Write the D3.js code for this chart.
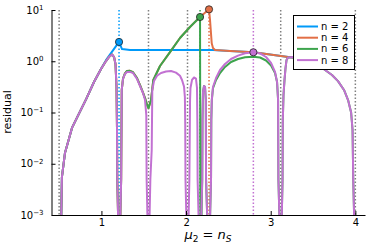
<!DOCTYPE html>
<html>
<head>
<meta charset="utf-8">
<script src="https://cdn.jsdelivr.net/npm/d3@7"></script>
<style>
  body { margin: 0; background: #fff; }
  text { font-family: "DejaVu Sans", sans-serif; fill: #000; }
</style>
</head>
<body>
<div id="chart"></div>
<script>
// series
const seriesNames = ["n = 2", "n = 4", "n = 6", "n = 8"];
const seriesColors = ["#009af9", "#e26f46", "#3da44d", "#c271d2"];

const xTicks = [1, 2, 3, 4];
const yTicks = [1e-3, 1e-2, 1e-1, 1, 10];
const yExps = ["\u22123", "\u22122", "\u22121", "0", "1"];

// shared pieces of the curves (mu, residual)
const muLeft  = [0.515, 0.533, 0.569, 0.652, 0.723, 0.818, 0.912, 0.995];
const resLeft = [1e-4, 0.0055, 0.0162, 0.050, 0.087, 0.18, 0.394, 0.706];

const muPeak  = [1.054, 1.095, 1.125, 1.149, 1.166, 1.178, 1.184, 1.187, 1.21];
const resPeak = [1.01, 1.239, 1.355, 1.21, 0.884, 0.315, 0.0456, 0.005, 1e-4];

const muLobe1  = [1.233, 1.235, 1.240, 1.255, 1.278, 1.302, 1.337, 1.373, 1.42, 1.456, 1.491, 1.515, 1.530, 1.534, 1.556];
const resLobe1 = [0.005, 0.0185, 0.275, 0.451, 0.564, 0.617, 0.62, 0.59, 0.451, 0.327, 0.24, 0.175, 0.089, 0.005, 1e-4];

const muLobe2  = [1.578, 1.594, 1.601, 1.621, 1.657, 1.704, 1.763, 1.822, 1.881, 1.928, 1.952, 1.976, 1.986, 1.990, 1.993, 2.017];
const resLobe2 = [0.005, 0.0185, 0.275, 0.41, 0.52, 0.59, 0.631, 0.645, 0.60, 0.52, 0.431, 0.32, 0.2, 0.06, 0.005, 1e-4];

const muLobe3  = [2.039, 2.047, 2.052, 2.070, 2.094, 2.117, 2.129, 2.134, 2.136, 2.163];
const resLobe3 = [0.005, 0.175, 0.301, 0.431, 0.482, 0.46, 0.301, 0.0456, 0.005, 1e-4];

const muLobe4  = [2.191, 2.194, 2.200, 2.212, 2.224, 2.233, 2.236, 2.268];
const resLobe4 = [0.005, 0.071, 0.251, 0.33, 0.315, 0.175, 0.005, 1e-4];

const muLobe5  = [2.295, 2.298, 2.304, 2.318, 2.354, 2.401, 2.46, 2.531, 2.614, 2.697, 2.795, 2.874, 2.945, 3.004, 3.051, 3.075, 3.087, 3.091, 3.118];
const resLobe5 = [0.005, 0.071, 0.175, 0.315, 0.471, 0.675, 0.884, 1.107, 1.29, 1.43, 1.496, 1.42, 1.21, 0.925, 0.617, 0.394, 0.175, 0.005, 1e-4];

const muLobe6  = [3.14, 3.143, 3.151, 3.163, 3.175, 3.187, 3.205, 3.264, 3.346, 3.465, 3.559, 3.642, 3.724, 3.795, 3.866, 3.914, 3.95, 3.967, 3.975, 4.0];
const resLobe6 = [0.005, 0.071, 0.219, 0.431, 0.738, 1.058, 1.18, 1.21, 1.18, 1.058, 0.884, 0.675, 0.539, 0.41, 0.275, 0.175, 0.1, 0.0456, 0.005, 1e-4];

// n = 6 specific pieces
const muLobe1n6  = [1.233, 1.235, 1.240, 1.255, 1.278, 1.302, 1.337, 1.373, 1.42, 1.456, 1.491, 1.52, 1.54, 1.556];
const resLobe1n6 = [0.005, 0.0185, 0.275, 0.46, 0.58, 0.645, 0.65, 0.61, 0.47, 0.34, 0.245, 0.18, 0.14, 0.122];
const muRise6  = [1.586, 1.613, 1.692, 1.81, 1.928, 2.046, 2.129, 2.165];
const resRise6 = [0.175, 0.431, 0.807, 1.51, 2.84, 4.66, 6.38, 7.30];
const muDrop6  = [2.168, 2.172];
const resDrop6 = [0.005, 1e-4];
const resLobe5n6 = [0.005, 0.071, 0.175, 0.30, 0.431, 0.59, 0.773, 0.967, 1.107, 1.194, 1.227, 1.183, 1.034, 0.826, 0.59, 0.394, 0.175, 0.005, 1e-4];

// n = 4 tail
const muTail4  = [2.271, 2.283, 2.303, 2.318, 2.342, 2.519, 2.795, 2.992, 3.205, 3.583, 4.0];
const resTail4 = [10.3, 6.38, 2.24, 1.82, 1.66, 1.585, 1.496, 1.355, 1.21, 1.035, 0.91];

// n = 2 middle
const muMid2  = [1.054, 1.208, 1.243, 1.338, 2.318];
const resMid2 = [1.05, 2.38, 1.73, 1.66, 1.66];
const muTail2  = [2.519, 2.795, 2.992, 3.205, 3.583, 4.0];
const resTail2 = [1.585, 1.496, 1.355, 1.21, 1.035, 0.91];

// marked points and reference lines
const muDots  = [1.208, 2.271, 2.165, 2.795];
const resDots = [2.38, 10.3, 7.30, 1.496];
const rootLines = [0.5, 1.556, 2.017, 3.118, 4.0];

const mu2  = [].concat(muLeft, muMid2, muTail2);
const res2 = [].concat(resLeft, resMid2, resTail2);
const mu4  = [].concat(muLeft, muPeak, muLobe1n6, muRise6, muTail4);
const res4 = [].concat(resLeft, resPeak, resLobe1n6, resRise6, resTail4);
const mu6  = [].concat(muLeft, muPeak, muLobe1n6, muRise6, muDrop6, muLobe4, muLobe5, muLobe6);
const res6 = [].concat(resLeft, resPeak, resLobe1n6, resRise6, resDrop6, resLobe4, resLobe5n6, resLobe6);
const mu8  = [].concat(muLeft, muPeak, muLobe1, muLobe2, muLobe3, muLobe4, muLobe5, muLobe6);
const res8 = [].concat(resLeft, resPeak, resLobe1, resLobe2, resLobe3, resLobe4, resLobe5, resLobe6);

const allMu = [mu2, mu4, mu6, mu8];
const allRes = [res2, res4, res6, res8];

const width = 374;
const height = 249;
const plot = { left: 51.5, right: 365, top: 10, bottom: 215 };

const x = d3.scaleLinear().domain([0.41, 4.114]).range([plot.left, plot.right]);
const y = d3.scaleLog().domain([1e-3, 10]).range([plot.bottom, plot.top]);

const svg = d3.select("#chart").append("svg")
    .attr("width", width)
    .attr("height", height);

svg.append("defs").append("clipPath")
    .attr("id", "plotclip")
  .append("rect")
    .attr("x", plot.left)
    .attr("y", 0)
    .attr("width", plot.right - plot.left)
    .attr("height", plot.bottom);

// dotted vertical lines
svg.append("g").selectAll("line.root")
    .data(rootLines)
  .enter().append("line")
    .attr("class", "root")
    .attr("x1", d => x(d)).attr("x2", d => x(d))
    .attr("y1", plot.top).attr("y2", plot.bottom)
    .attr("stroke", "#808080")
    .attr("stroke-width", 1.5)
    .attr("stroke-dasharray", "1.5,2");

svg.append("g").selectAll("line.mark")
    .data(muDots)
  .enter().append("line")
    .attr("class", "mark")
    .attr("x1", d => x(d)).attr("x2", d => x(d))
    .attr("y1", plot.top).attr("y2", plot.bottom)
    .attr("stroke", (d, i) => seriesColors[i])
    .attr("stroke-width", 1.5)
    .attr("stroke-dasharray", "1.5,2");

// curves
const line = d3.line()
    .x(d => x(d[0]))
    .y(d => y(d[1]));

svg.append("g")
    .attr("clip-path", "url(#plotclip)")
  .selectAll("path")
    .data(allMu.map((m, i) => m.map((v, j) => [v, allRes[i][j]])))
  .enter().append("path")
    .attr("d", line)
    .attr("fill", "none")
    .attr("stroke", (d, i) => seriesColors[i])
    .attr("stroke-width", 2)
    .attr("stroke-linejoin", "round");

// axes
const xAxis = svg.append("g")
    .attr("transform", `translate(0,${plot.bottom})`)
    .call(d3.axisBottom(x).tickValues(xTicks).tickFormat(d3.format("d"))
      .tickSizeInner(-4).tickSizeOuter(0).tickPadding(4));

const yAxis = svg.append("g")
    .attr("transform", `translate(${plot.left},0)`)
    .call(d3.axisLeft(y).tickValues(yTicks).tickFormat(() => "")
      .tickSizeInner(-4).tickSizeOuter(0).tickPadding(8));

[xAxis, yAxis].forEach(g => {
  g.select(".domain").attr("stroke", "#000").attr("stroke-width", 1);
  g.selectAll(".tick line").attr("stroke", "#000");
  g.selectAll("text").attr("font-family", "DejaVu Sans").attr("font-size", 10).attr("fill", "#000");
});

yAxis.selectAll(".tick text").each(function(d, i) {
  const t = d3.select(this);
  t.append("tspan").text("10");
  t.append("tspan").attr("font-size", 7).attr("dy", "-0.55em").text(yExps[i]);
});

// axis labels
svg.append("text")
    .attr("transform", "translate(11,112) rotate(-90)")
    .attr("text-anchor", "middle")
    .attr("font-size", 11)
    .text("residual");

const xl = svg.append("text")
    .attr("x", 208)
    .attr("y", 239)
    .attr("text-anchor", "middle")
    .attr("font-family", "Liberation Serif, serif")
    .attr("font-style", "italic")
    .attr("font-size", 13);
xl.append("tspan").text("\u03bc");
xl.append("tspan").attr("font-size", 9).attr("dy", 3).attr("font-style", "normal").text("2");
xl.append("tspan").attr("dy", -3).attr("font-style", "normal").text(" = ");
xl.append("tspan").text("n");
xl.append("tspan").attr("font-size", 9).attr("dy", 3).text("S");

// marked points
svg.append("g").selectAll("circle")
    .data(muDots)
  .enter().append("circle")
    .attr("cx", d => x(d))
    .attr("cy", (d, i) => y(resDots[i]))
    .attr("r", 3.6)
    .attr("fill", (d, i) => seriesColors[i])
    .attr("stroke", "#222")
    .attr("stroke-width", 0.8);

// legend
const legend = svg.append("g");
legend.append("rect")
    .attr("x", 293.5).attr("y", 15.5)
    .attr("width", 61).attr("height", 54)
    .attr("fill", "#fff")
    .attr("stroke", "#000")
    .attr("stroke-width", 1);

const items = legend.selectAll("g.item")
    .data(seriesNames)
  .enter().append("g")
    .attr("class", "item")
    .attr("transform", (d, i) => `translate(0,${26.5 + i * 11.2})`);

items.append("line")
    .attr("x1", 297).attr("x2", 318)
    .attr("stroke", (d, i) => seriesColors[i])
    .attr("stroke-width", 2);

items.append("text")
    .attr("x", 321)
    .attr("dy", "0.35em")
    .attr("font-size", 10)
    .text(d => d);
</script>
</body>
</html>
